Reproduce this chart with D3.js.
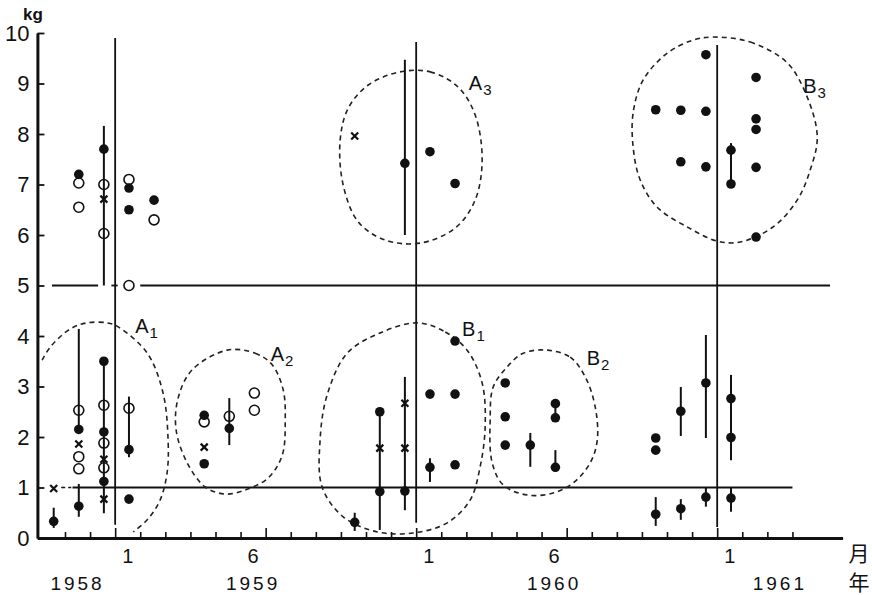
<!DOCTYPE html>
<html>
<head>
<meta charset="utf-8">
<script src="https://cdn.jsdelivr.net/npm/d3@7"></script>
<style>
  body { margin: 0; background: #fff; }
  svg { display: block; font-family: "Liberation Sans", Arial, sans-serif; }
</style>
</head>
<body>
<div id="wrapper"></div>
<script>
// months as "YYYY-MM", values in kg

const filledPoints = [
  ["1958-10", 0.33],
  ["1958-11", 7.2], ["1958-11", 2.15], ["1958-11", 0.63],
  ["1958-12", 7.7], ["1958-12", 3.5], ["1958-12", 2.1], ["1958-12", 1.12],
  ["1959-01", 6.93], ["1959-01", 6.5], ["1959-01", 1.75], ["1959-01", 0.77],
  ["1959-02", 6.69],
  ["1959-04", 2.43], ["1959-04", 1.47],
  ["1959-05", 2.17],
  ["1959-10", 0.31],
  ["1959-11", 2.5], ["1959-11", 0.92],
  ["1959-12", 7.42], ["1959-12", 0.93],
  ["1960-01", 7.65], ["1960-01", 2.85], ["1960-01", 1.4],
  ["1960-02", 7.02], ["1960-02", 3.9], ["1960-02", 2.85], ["1960-02", 1.45],
  ["1960-04", 3.07], ["1960-04", 2.4], ["1960-04", 1.84],
  ["1960-05", 1.84],
  ["1960-06", 2.66], ["1960-06", 2.38], ["1960-06", 1.4],
  ["1960-10", 8.48], ["1960-10", 1.98], ["1960-10", 1.74], ["1960-10", 0.47],
  ["1960-11", 8.47], ["1960-11", 7.45], ["1960-11", 2.51], ["1960-11", 0.58],
  ["1960-12", 9.57], ["1960-12", 8.45], ["1960-12", 7.35], ["1960-12", 3.07], ["1960-12", 0.81],
  ["1961-01", 7.68], ["1961-01", 7.01], ["1961-01", 2.76], ["1961-01", 1.99], ["1961-01", 0.79],
  ["1961-02", 9.12], ["1961-02", 8.3], ["1961-02", 8.09], ["1961-02", 7.34], ["1961-02", 5.96]
]

const openPoints = [
  ["1958-11", 7.03], ["1958-11", 6.55], ["1958-11", 2.53], ["1958-11", 1.61], ["1958-11", 1.37],
  ["1958-12", 7.0], ["1958-12", 6.03], ["1958-12", 2.63], ["1958-12", 1.88], ["1958-12", 1.39],
  ["1959-01", 7.1], ["1959-01", 5.0], ["1959-01", 2.57],
  ["1959-02", 6.3],
  ["1959-04", 2.3],
  ["1959-05", 2.41],
  ["1959-06", 2.87], ["1959-06", 2.53]
]

const crossPoints = [
  ["1958-10", 0.98], ["1958-11", 1.86],
  ["1958-12", 6.71], ["1958-12", 1.56], ["1958-12", 0.77],
  ["1959-04", 1.8], ["1959-10", 7.96], ["1959-11", 1.78],
  ["1959-12", 2.67], ["1959-12", 1.78]
]

// [month, low, high]
const errorBars = [
  ["1958-10", 0.2, 0.6],
  ["1958-11", 2.15, 4.14], ["1958-11", 0.42, 1.07],
  ["1958-12", 5.0, 8.16], ["1958-12", 0.49, 3.5],
  ["1959-01", 1.6, 2.8],
  ["1959-05", 1.84, 2.77],
  ["1959-10", 0.14, 0.5],
  ["1959-11", 0.16, 2.57],
  ["1959-12", 6.0, 9.47], ["1959-12", 0.55, 3.19],
  ["1960-01", 1.11, 1.58],
  ["1960-05", 1.41, 2.08],
  ["1960-06", 2.38, 2.66], ["1960-06", 1.31, 1.74],
  ["1960-10", 0.24, 0.81],
  ["1960-11", 2.02, 2.99], ["1960-11", 0.36, 0.77],
  ["1960-12", 1.98, 4.02], ["1960-12", 0.62, 0.99],
  ["1961-01", 7.0, 7.82], ["1961-01", 1.54, 3.23], ["1961-01", 0.52, 0.99]
]

// year boundaries: [month, top kg, bottom kg]
const dividers = [
  ["1959-01", 9.9, 0.26],
  ["1960-01", 9.82, 0.3],
  ["1961-01", 9.76, 0.22]
]

// horizontal reference lines: [kg, from month index, to month index]
const refLines = [
  [5, 9.48, 11.32], [5, 11.85, 12.1], [5, 13.0, 40.5],
  [1, 10.3, 39.0]
]
const refDashes = [
  [1, 9.85, 10.25]
]

// group outlines, [month index, kg]
const outlineA1 = [[9.09, 3.52], [9.41, 3.78], [10.21, 4.14], [10.88, 4.26], [11.68, 4.26], [12.12, 4.18],
  [13.28, 3.66], [13.91, 2.87], [14.11, 1.94], [14.07, 1.29], [13.79, 0.75], [13.28, 0.36], [12.72, 0.12]]
const outlineA2 = [[16.47, 3.72], [17.58, 3.66], [18.26, 3.43], [18.7, 2.93], [18.78, 2.34], [18.66, 1.64],
  [18.1, 1.19], [17.18, 0.95], [16.39, 0.87], [15.59, 1.01], [14.87, 1.49], [14.43, 2.14], [14.51, 2.77], [15.07, 3.33]]
const outlineA3 = [[23.36, 9.23], [24.56, 9.23], [25.67, 8.93], [26.35, 8.38], [26.63, 7.49], [26.35, 6.69],
  [25.56, 6.14], [24.16, 5.84], [22.76, 5.9], [21.69, 6.26], [21.09, 6.99], [20.97, 7.88], [21.29, 8.51], [22.09, 8.97]]
const outlineB1 = [[24.04, 4.26], [25.16, 4.08], [26.03, 3.72], [26.63, 3.07], [26.75, 2.2], [26.55, 1.41],
  [26.15, 0.75], [25.24, 0.3], [23.88, 0.1], [22.45, 0.12], [21.09, 0.42], [20.25, 1.01], [20.17, 1.94],
  [20.45, 2.83], [21.25, 3.66], [22.56, 4.06]]
const outlineB2 = [[29.22, 3.72], [30.14, 3.58], [30.74, 3.19], [31.14, 2.59], [31.22, 1.94], [30.94, 1.49],
  [30.26, 1.09], [29.46, 0.89], [28.43, 0.85], [27.47, 1.05], [27.03, 1.49], [26.95, 2.34], [27.07, 2.99],
  [27.63, 3.39], [28.27, 3.66]]
const outlineB3 = [[35.84, 9.92], [37.32, 9.82], [38.79, 9.41], [39.59, 8.73], [39.99, 7.94], [39.71, 7.29],
  [39.19, 6.69], [38.23, 6.16], [36.92, 5.86], [36.0, 5.88], [34.8, 6.16], [33.61, 6.55], [32.93, 7.09],
  [32.65, 7.74], [32.65, 8.42], [33.05, 9.07], [34.01, 9.6], [35.04, 9.86]]

// [letter, subscript, month index, kg]
const groupLabels = [
  ["A", "1", 12.8, 4.06], ["A", "2", 18.2, 3.5], ["A", "3", 26.1, 8.87],
  ["B", "1", 25.83, 4.0], ["B", "2", 30.8, 3.42], ["B", "3", 39.43, 8.82]
]

const monthTicks = ["1959-01", "1959-06", "1960-01", "1960-06", "1961-01"]
const monthTickText = ["1", "6", "1", "6", "1"]
const yearMonths = ["1958-11", "1959-06", "1960-06", "1961-03"]
const yearText = ["1958", "1959", "1960", "1961"]
const yTicks = d3.range(0, 11)

const monthIndex = (s, offset = 0) => {
  const [y, m] = s.split("-").map(Number)
  return (y - 1958) * 12 + (m - 1) + offset
}
const mid = s => monthIndex(s, 0.55)

// Dimensions
const width = 872
const height = 595

const svg = d3.select("#wrapper")
  .append("svg")
  .attr("width", width)
  .attr("height", height)

const xScale = d3.scaleLinear()
  .domain([8.9, 41])
  .range([37.4, 842.6])

const yScale = d3.scaleLinear()
  .domain([0, 10])
  .range([538, 33])

// Reference lines
svg.append("g").selectAll("line")
  .data(refLines)
  .join("line")
  .attr("x1", d => xScale(d[1]))
  .attr("x2", d => xScale(d[2]))
  .attr("y1", d => yScale(d[0]))
  .attr("y2", d => yScale(d[0]))
  .attr("stroke", "#111")
  .attr("stroke-width", 1.8)

svg.append("g").selectAll("line")
  .data(refDashes)
  .join("line")
  .attr("x1", d => xScale(d[1]))
  .attr("x2", d => xScale(d[2]))
  .attr("y1", d => yScale(d[0]))
  .attr("y2", d => yScale(d[0]))
  .attr("stroke", "#111")
  .attr("stroke-width", 1.6)
  .attr("stroke-dasharray", "4,3")

// Year dividers
svg.append("g").selectAll("line")
  .data(dividers)
  .join("line")
  .attr("x1", d => xScale(monthIndex(d[0])))
  .attr("x2", d => xScale(monthIndex(d[0])))
  .attr("y1", d => yScale(d[1]))
  .attr("y2", d => yScale(d[2]))
  .attr("stroke", "#111")
  .attr("stroke-width", 1.8)

// Group outlines
const closedLine = d3.line()
  .x(d => xScale(d[0]))
  .y(d => yScale(d[1]))
  .curve(d3.curveCatmullRomClosed.alpha(0.5))

const openLine = d3.line()
  .x(d => xScale(d[0]))
  .y(d => yScale(d[1]))
  .curve(d3.curveCatmullRom.alpha(0.5))

const outlines = svg.append("g")
  .attr("fill", "none")
  .attr("stroke", "#222")
  .attr("stroke-width", 1.6)
  .attr("stroke-dasharray", "5,4")

outlines.append("path").attr("d", openLine(outlineA1))
outlines.selectAll("path.closed")
  .data([outlineA2, outlineA3, outlineB1, outlineB2, outlineB3])
  .join("path")
  .attr("class", "closed")
  .attr("d", closedLine)

// Group labels
const labels = svg.append("g")
  .attr("font-size", 20)
  .attr("fill", "#111")
  .selectAll("text")
  .data(groupLabels)
  .join("text")
  .attr("x", d => xScale(d[2]))
  .attr("y", d => yScale(d[3]))
labels.append("tspan").text(d => d[0])
labels.append("tspan")
  .attr("font-size", 15)
  .attr("dy", 5)
  .attr("dx", 1)
  .text(d => d[1])

// Error bars
svg.append("g").selectAll("line")
  .data(errorBars)
  .join("line")
  .attr("x1", d => xScale(mid(d[0])))
  .attr("x2", d => xScale(mid(d[0])))
  .attr("y1", d => yScale(d[1]))
  .attr("y2", d => yScale(d[2]))
  .attr("stroke", "#111")
  .attr("stroke-width", 2)

// Open circles
svg.append("g").selectAll("circle")
  .data(openPoints)
  .join("circle")
  .attr("cx", d => xScale(mid(d[0])))
  .attr("cy", d => yScale(d[1]))
  .attr("r", 5)
  .attr("fill", "none")
  .attr("stroke", "#111")
  .attr("stroke-width", 1.6)

// Filled dots
svg.append("g").selectAll("circle")
  .data(filledPoints)
  .join("circle")
  .attr("cx", d => xScale(mid(d[0])))
  .attr("cy", d => yScale(d[1]))
  .attr("r", 4.8)
  .attr("fill", "#111")

// Crosses
svg.append("g").selectAll("path")
  .data(crossPoints)
  .join("path")
  .attr("transform", d => `translate(${xScale(mid(d[0]))},${yScale(d[1])})`)
  .attr("d", "M-3.5,-3.5L3.5,3.5M-3.5,3.5L3.5,-3.5")
  .attr("stroke", "#111")
  .attr("stroke-width", 2.2)

// Axes
const xAxisGenerator = d3.axisBottom(xScale)
  .tickValues(d3.range(10, 40))
  .tickSizeInner(-6)
  .tickSizeOuter(0)
  .tickFormat("")

const xAxis = svg.append("g")
  .attr("transform", `translate(0,${yScale(0)})`)
  .call(xAxisGenerator)
xAxis.select(".domain").attr("stroke-width", 3).attr("stroke", "#111")
xAxis.selectAll(".tick line")
  .attr("stroke", "#111")
  .attr("stroke-width", 1.6)
  .attr("y2", d => d % 6 === 0 ? -10 : -6)

const yAxisGenerator = d3.axisLeft(yScale)
  .tickValues(yTicks)
  .tickSizeInner(-7)
  .tickSizeOuter(0)
  .tickPadding(8)

const yAxis = svg.append("g")
  .attr("transform", `translate(${xScale(8.9)},0)`)
  .call(yAxisGenerator)
yAxis.select(".domain").attr("stroke-width", 3).attr("stroke", "#111")
yAxis.selectAll(".tick line").attr("stroke", "#111").attr("stroke-width", 1.8)
yAxis.selectAll(".tick text")
  .attr("font-family", "Liberation Sans, Arial, sans-serif")
  .attr("font-size", 22)
  .attr("fill", "#111")

svg.append("text")
  .attr("x", 33)
  .attr("y", 20)
  .attr("text-anchor", "middle")
  .attr("font-size", 17)
  .attr("font-weight", "bold")
  .attr("fill", "#111")
  .text("kg")

// Month and year labels
svg.append("g").selectAll("text")
  .data(monthTicks)
  .join("text")
  .attr("x", d => xScale(monthIndex(d, 0.5)))
  .attr("y", 563)
  .attr("text-anchor", "middle")
  .attr("font-size", 20)
  .attr("fill", "#111")
  .text((d, i) => monthTickText[i])

svg.append("g").selectAll("text")
  .data(yearMonths)
  .join("text")
  .attr("x", d => xScale(monthIndex(d, 0.5)))
  .attr("y", 590)
  .attr("text-anchor", "middle")
  .attr("font-size", 19)
  .attr("letter-spacing", 3)
  .attr("fill", "#111")
  .text((d, i) => yearText[i])

svg.append("text")
  .attr("x", 859)
  .attr("y", 561)
  .attr("text-anchor", "middle")
  .attr("font-family", "Noto Sans CJK JP")
  .attr("font-size", 21)
  .attr("fill", "#111")
  .text("月")

svg.append("text")
  .attr("x", 859)
  .attr("y", 590)
  .attr("text-anchor", "middle")
  .attr("font-family", "Noto Sans CJK JP")
  .attr("font-size", 21)
  .attr("fill", "#111")
  .text("年")
</script>
</body>
</html>
